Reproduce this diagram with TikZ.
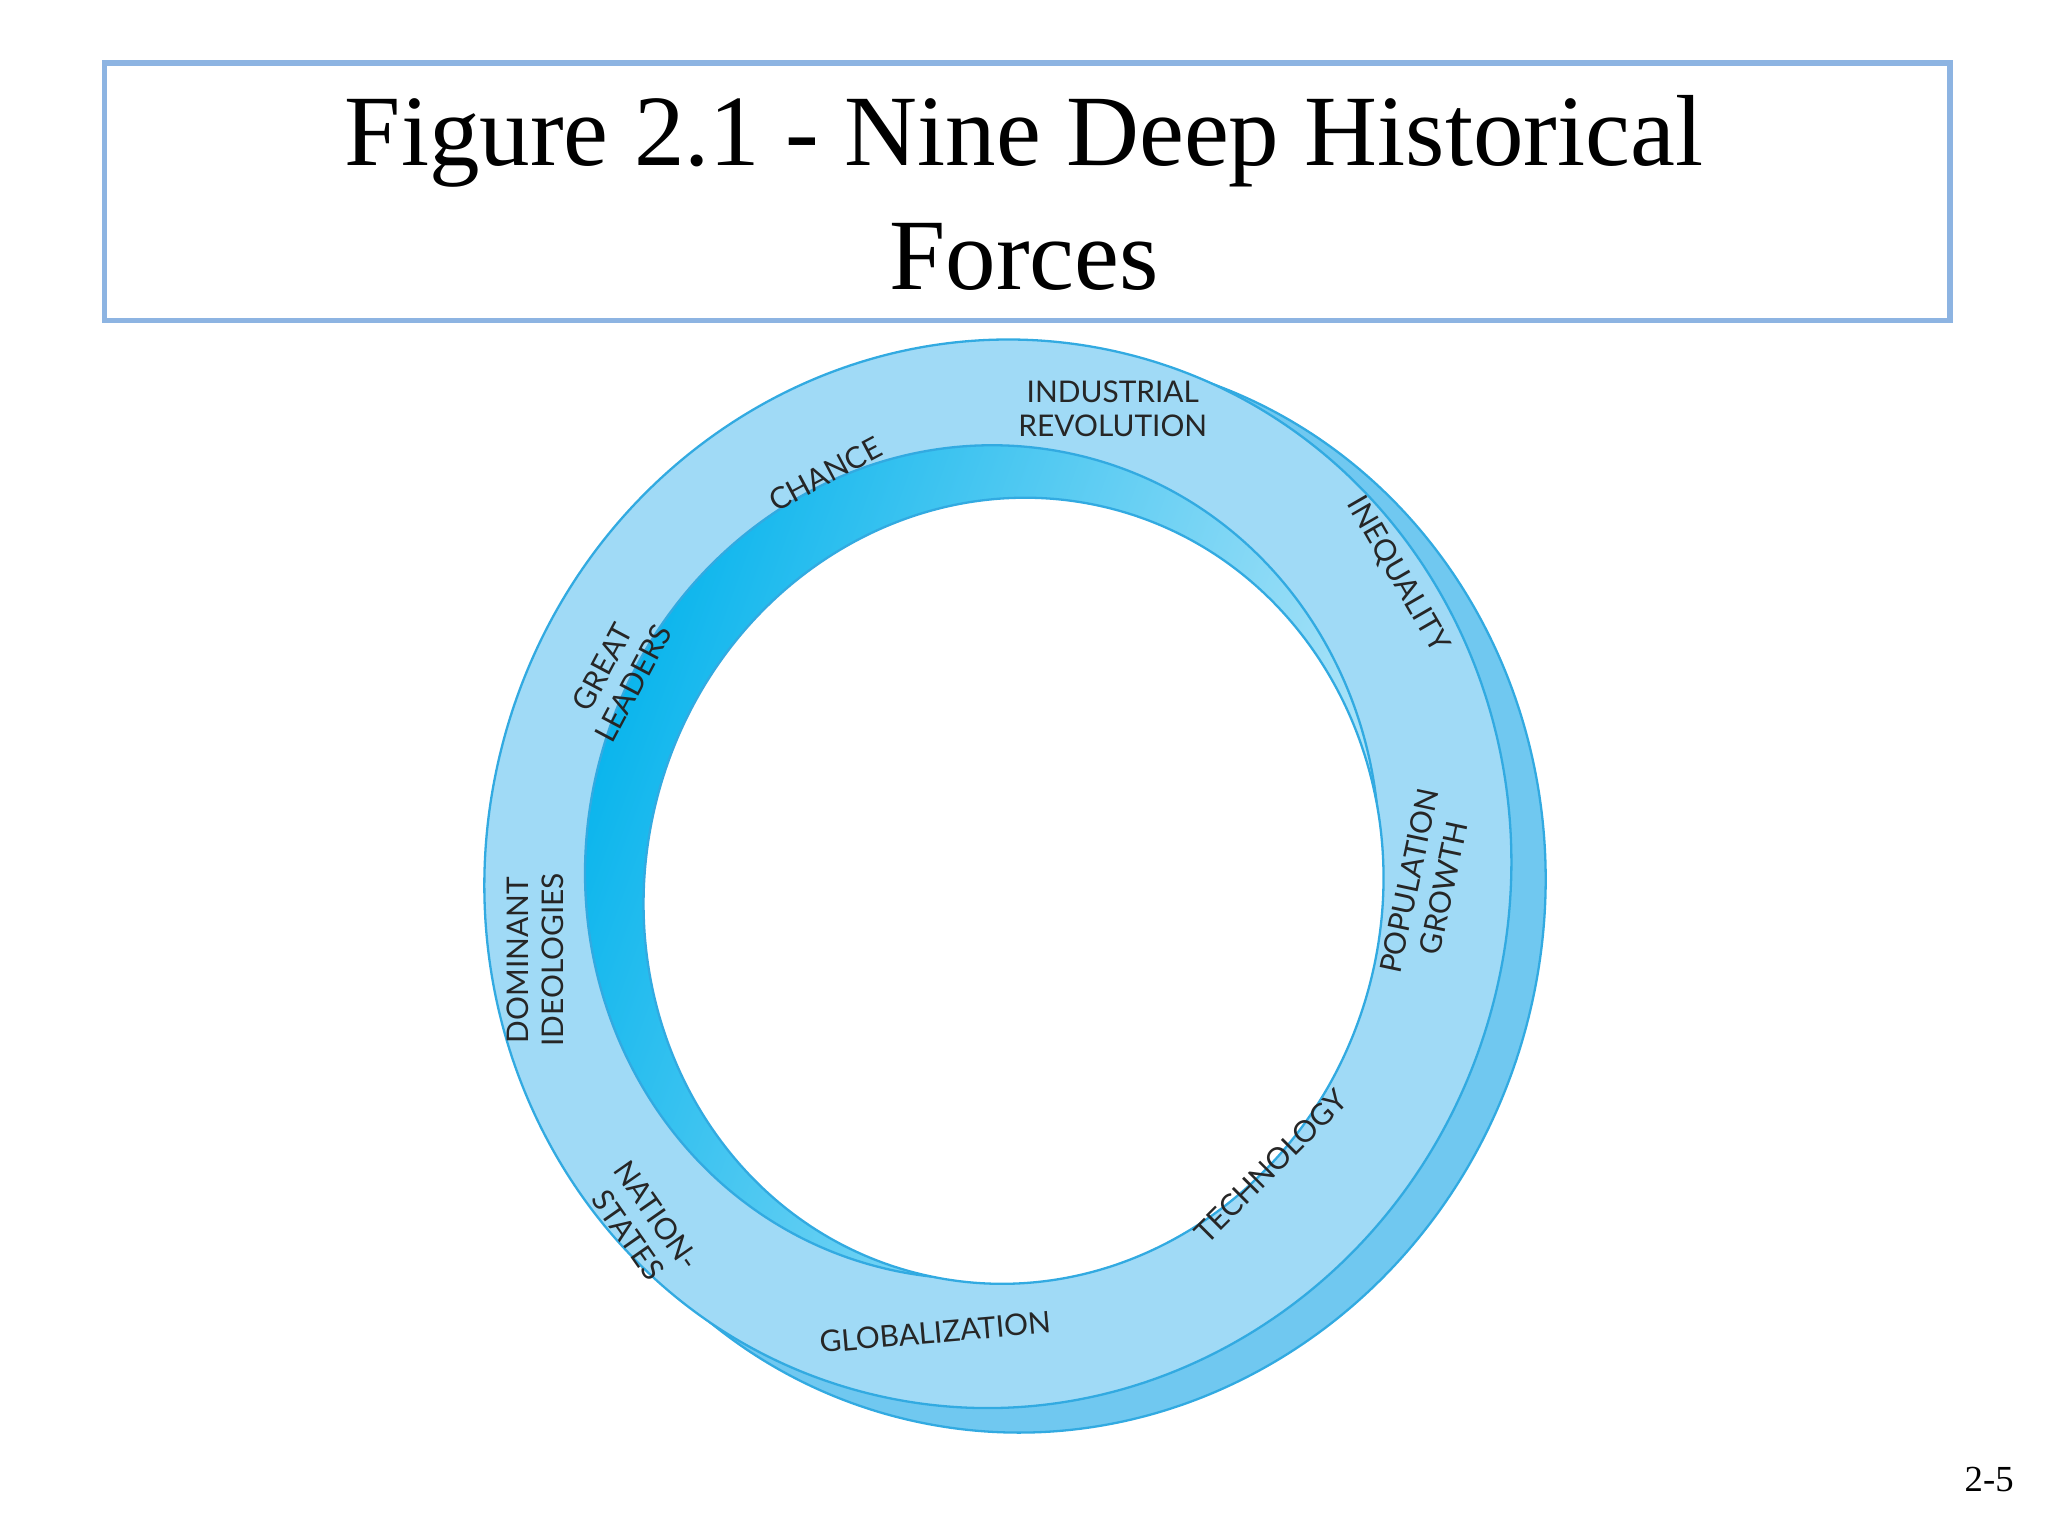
\documentclass[tikz,border=0pt]{standalone}
\usepackage{fontspec}
\setmainfont{Liberation Serif}
\newfontfamily\lab{Lato}
\definecolor{band}{RGB}{160,218,246}
\definecolor{backband}{RGB}{112,200,240}
\definecolor{edge}{RGB}{50,170,225}
\definecolor{wall}{RGB}{0,178,236}
\definecolor{framec}{RGB}{141,180,226}
\begin{document}
\begin{tikzpicture}[x=0.01cm,y=-0.01cm,
  lbl/.style={font=\lab\fontsize{6.5}{7.6}\selectfont,align=center,text=black!85}]
\useasboundingbox (0,0) rectangle (1568,1176);
\node[draw=framec,line width=1.2pt,minimum width=14.12cm,minimum height=1.97cm,anchor=north west,inner sep=0] (title) at (78,46) {};
\node[font=\fontsize{22}{27}\selectfont,align=center] (tt) at (784,148) {Figure 2.1 - Nine Deep Historical\\Forces};
% back band
\fill[fill=backband,draw=edge,line width=0.5pt,rotate around={-14:(790,684)}] (790,684) ellipse (392 and 414);
% front face
\fill[fill=band,draw=edge,line width=0.5pt,rotate around={-14:(764,669)}] (764,669) ellipse (392 and 410);
\shade[left color=wall,right color={rgb,255:red,200;green,235;blue,250},shading angle=70,draw=edge,line width=0.5pt,rotate around={-14:(752,660)}] (752,660) ellipse (303 and 320);
\fill[white,draw=edge,line width=0.5pt,rotate around={-14:(776,682)}] (776,682) ellipse (282 and 302);
\node[lbl,rotate=0] (n1) at (852,313) {INDUSTRIAL\\REVOLUTION};
\node[lbl,rotate=28] (n2) at (632,363) {CHANCE};
\node[lbl,rotate=62] (n3) at (473,517) {GREAT\\LEADERS};
\node[lbl,rotate=90] (n4) at (410,735) {DOMINANT\\IDEOLOGIES};
\node[lbl,rotate=-55] (n5) at (492,938) {NATION-\\STATES};
\node[lbl,rotate=5] (n6) at (716,1020) {GLOBALIZATION};
\node[lbl,rotate=45] (n7) at (973,893) {TECHNOLOGY};
\node[lbl,rotate=78] (n8) at (1092,677) {POPULATION\\GROWTH};
\node[lbl,rotate=-60] (n9) at (1070,440) {INEQUALITY};
\node[font=\fontsize{8}{9}\selectfont] (pg) at (1523,1133) {2-5};
\end{tikzpicture}
\end{document}
